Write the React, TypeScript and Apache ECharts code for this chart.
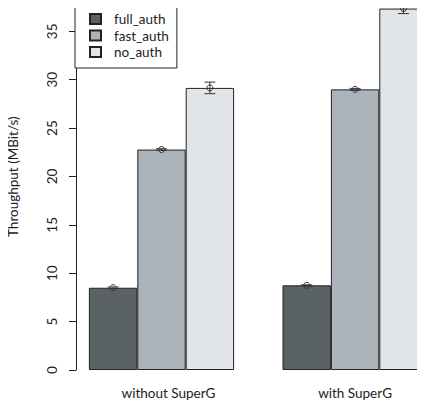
import React, { useEffect, useRef } from "react";
import * as echarts from "echarts";

const categories = ["without SuperG", "with SuperG"];
const seriesNames = ["full_auth", "fast_auth", "no_auth"];
const fullAuth = [8.5, 8.75];
const fastAuth = [22.78, 29.0];
const noAuth = [29.15, 37.35];
const fullAuthErr = [0.08, 0.05];
const fastAuthErr = [0.08, 0.1];
const noAuthErr = [0.6, 0.52];
const yTicks = [0, 5, 10, 15, 20, 25, 30, 35];

const colors = ["#5b6265", "#adb3ba", "#e1e4e9"];
const FONT = "Lato";
const FS = 13.5;
const TEXT = "#222";

export default function App() {
  const ref = useRef<HTMLDivElement>(null);
  useEffect(() => {
    if (!ref.current) return;
    const chart = echarts.init(ref.current, undefined, { renderer: "svg" });
    const values = [fullAuth, fastAuth, noAuth];
    const errs = [fullAuthErr, fastAuthErr, noAuthErr];

    const barSeries = seriesNames.map((name, i) => ({
      type: "bar",
      name,
      data: values[i],
      barGap: "0%",
      barCategoryGap: "25%",
      clip: false,
      itemStyle: { color: colors[i], borderColor: "#222", borderWidth: 1 },
      emphasis: { disabled: true },
    }));

    const errSeries = seriesNames.map((name, si) => ({
      type: "custom",
      name: name + "_err",
      clip: false,
      silent: true,
      z: 5,
      data: categories.map((_, ci) => [ci, values[si][ci], errs[si][ci]]),
      renderItem: (params: any, api: any) => {
        const ci = api.value(0);
        const mean = api.value(1);
        const e = api.value(2);
        const band = api.size([1, 0])[0];
        const bw = band * 0.25;
        const c = api.coord([ci, mean]);
        const x = c[0] + (si - 1) * bw;
        const yTop = api.coord([ci, mean + e])[1];
        const yBot = api.coord([ci, mean - e])[1];
        const hw = 5.5;
        const st = { stroke: "#333", lineWidth: 1, fill: "none" };
        return {
          type: "group",
          children: [
            { type: "line", shape: { x1: x, y1: yTop, x2: x, y2: yBot }, style: st },
            { type: "line", shape: { x1: x - hw, y1: yTop, x2: x + hw, y2: yTop }, style: st },
            { type: "line", shape: { x1: x - hw, y1: yBot, x2: x + hw, y2: yBot }, style: st },
            { type: "circle", shape: { cx: x, cy: c[1], r: 3 }, style: { stroke: "#333", lineWidth: 1, fill: "none" } },
          ],
        };
      },
    }));

    chart.setOption({
      animation: false,
      textStyle: { fontFamily: FONT, color: TEXT },
      grid: {
        left: 64.7,
        width: 387.2,
        top: 31.3,
        bottom: 40,
        containLabel: false,
        outerBoundsMode: "none",
      },
      legend: {
        data: seriesNames,
        orient: "vertical",
        left: 75,
        top: 3,
        backgroundColor: "#fff",
        borderColor: "#222",
        borderWidth: 1,
        borderRadius: 0,
        padding: [8, 8, 8, 14],
        itemWidth: 11,
        itemHeight: 10,
        itemGap: 0.5,
        icon: "rect",
        selectedMode: false,
        textStyle: { fontFamily: FONT, fontSize: FS, color: TEXT, lineHeight: 16, padding: [0, 0, 0, 8] },
        z: 10,
      },
      xAxis: {
        type: "category",
        data: categories,
        axisLine: { show: false },
        axisTick: { show: false },
        axisLabel: {
          fontFamily: FONT,
          fontSize: FS,
          color: TEXT,
          margin: 16,
          formatter: (v: string, i: number) => (i === 0 ? "{a|" + v + "}" : v),
          rich: { a: { fontFamily: FONT, fontSize: FS, color: TEXT, padding: [0, 0, 0, 14] } },
        },
      },
      yAxis: {
        type: "value",
        min: 0,
        max: 35,
        interval: 5,
        offset: -11.3,
        name: "Throughput (MBit/s)",
        nameLocation: "middle",
        nameRotate: 90,
        nameGap: 56,
        nameTextStyle: { fontFamily: FONT, fontSize: FS, color: TEXT, padding: [0, 0, 0, 48] },
        splitLine: { show: false },
        axisLine: { show: true, lineStyle: { color: "#222", width: 1 } },
        axisTick: { show: true, length: 7, lineStyle: { color: "#222" } },
        axisLabel: {
          rotate: 90,
          margin: 17,
          fontFamily: FONT,
          fontSize: FS,
          color: TEXT,
          formatter: (v: number) => (yTicks.includes(v) ? String(v) : ""),
        },
      },
      series: [...barSeries, ...errSeries],
    });
    return () => chart.dispose();
  }, []);
  return <div ref={ref} style={{ width: 425, height: 410, margin: -8 }} />;
}
